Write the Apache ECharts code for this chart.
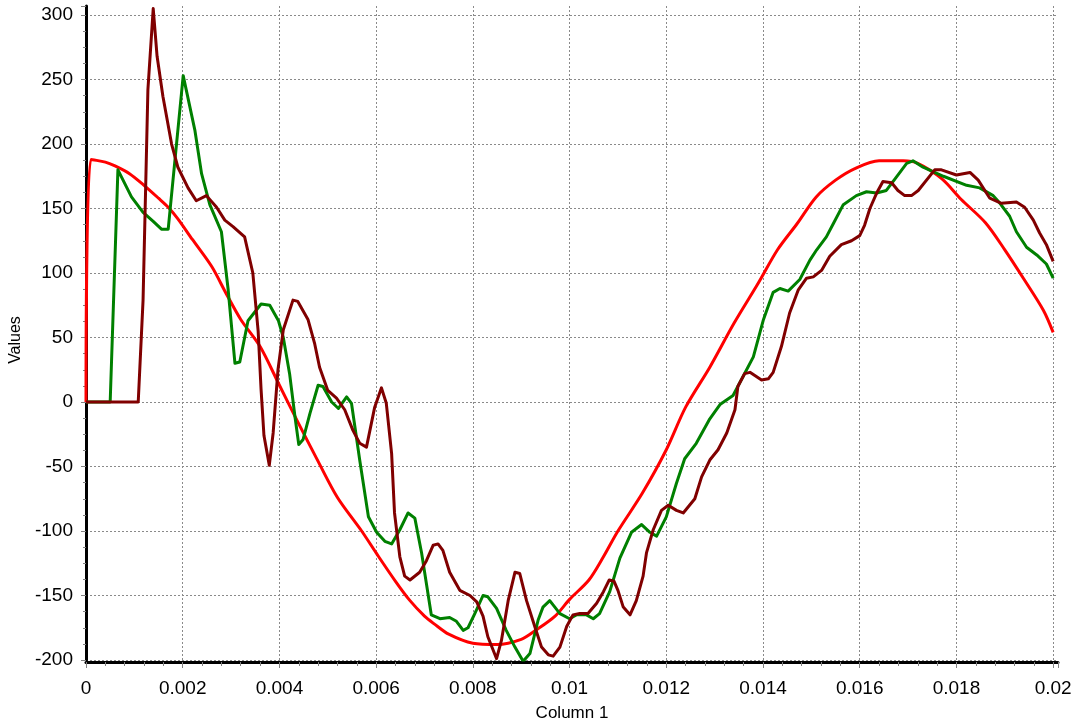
<!DOCTYPE html>
<html>
<head>
<meta charset="utf-8">
<script src="https://cdn.jsdelivr.net/npm/echarts@6/dist/echarts.min.js"></script>
<style>
html,body{margin:0;padding:0;background:#fff;}
#chart{width:1074px;height:724px;}
</style>
</head>
<body>
<div id="chart"></div>
<script>
const xAxisName = "Column 1";
const yAxisName = "Values";

const redSeries = [
[0,0],[0.0001,188],[0.0004,186],[0.0006,183],[0.0009,177],[0.0012,168],[0.0015,158],[0.0017,151],[0.0019,142],[0.0022,126],[0.0026,105],[0.0029,84],[0.0032,64],[0.0036,43],[0.0040,13],[0.0044,-17],[0.0048,-46],[0.0052,-74],[0.0057,-100],[0.0060,-117],[0.0064,-139],[0.0067,-154],[0.0070,-166],[0.0072,-172],[0.0075,-180],[0.0080,-187],[0.0085,-188],[0.0090,-184],[0.0093,-177],[0.0097,-166],[0.0100,-153],[0.0104,-138],[0.0107,-120],[0.0110,-100],[0.0115,-71],[0.0120,-37],[0.0124,-4],[0.0129,27],[0.0134,61],[0.0139,92],[0.0143,118],[0.0147,138],[0.0151,159],[0.0155,172],[0.0159,181],[0.0164,187],[0.0169,187],[0.0172,185],[0.0177,173],[0.0181,157],[0.0186,139],[0.0190,118],[0.0194,95],[0.0198,71],[0.0200,54]
];

const greenSeries = [
[0,0],[0.0005,0],[0.00066,180],[0.00094,159],[0.00118,147],[0.00139,140],[0.00156,134],[0.0017,134],[0.00201,253],[0.00225,211],[0.00239,177],[0.00256,153],[0.0028,132],[0.00294,87],[0.00308,30],[0.00318,31],[0.00335,63],[0.00362,76],[0.0038,75],[0.00398,63],[0.00408,50],[0.00421,22],[0.00432,-11],[0.0044,-33],[0.00449,-29],[0.00463,-9],[0.0048,13],[0.0049,12],[0.00508,0],[0.00522,-5],[0.00539,4],[0.00549,-1],[0.00566,-45],[0.00584,-89],[0.00601,-101],[0.00618,-108],[0.00632,-110],[0.00649,-99],[0.00666,-86],[0.0068,-90],[0.00694,-117],[0.00714,-165],[0.00732,-168],[0.00752,-167],[0.00766,-170],[0.0078,-177],[0.0079,-175],[0.00804,-164],[0.00821,-150],[0.00831,-151],[0.00849,-160],[0.00869,-177],[0.00887,-190],[0.00904,-201],[0.00918,-195],[0.00935,-169],[0.00945,-159],[0.00959,-154],[0.0098,-164],[0.01,-168],[0.01014,-165],[0.01035,-165],[0.01049,-168],[0.01062,-164],[0.01083,-147],[0.01104,-121],[0.01128,-101],[0.01149,-95],[0.01166,-101],[0.0118,-104],[0.012,-89],[0.01221,-63],[0.01238,-44],[0.01262,-32],[0.0129,-13],[0.01311,-2],[0.01338,5],[0.01359,20],[0.0138,35],[0.01401,64],[0.01421,85],[0.01435,88],[0.01452,86],[0.01476,95],[0.01497,110],[0.01511,118],[0.01531,128],[0.01545,138],[0.01566,153],[0.01593,160],[0.01614,163],[0.01635,162],[0.01655,164],[0.01673,173],[0.01697,185],[0.0171,187],[0.01731,182],[0.01773,175],[0.01821,168],[0.01848,166],[0.01876,160],[0.0189,154],[0.0191,144],[0.01924,132],[0.01945,120],[0.01966,114],[0.01986,107],[0.02,96]
];

const darkRedSeries = [
[0,0],[0.00108,0],[0.00118,79],[0.00128,242],[0.00139,305],[0.00147,268],[0.00159,237],[0.00177,200],[0.0019,182],[0.00211,166],[0.00228,156],[0.00249,160],[0.0027,151],[0.00287,141],[0.00304,136],[0.00328,128],[0.00345,100],[0.00356,55],[0.00362,10],[0.00368,-26],[0.00379,-49],[0.00387,-24],[0.00397,25],[0.00408,56],[0.00428,79],[0.00438,78],[0.00459,64],[0.00473,45],[0.00483,27],[0.005,9],[0.00518,3],[0.00535,-6],[0.00552,-22],[0.00566,-32],[0.0058,-35],[0.00597,-4],[0.00611,11],[0.00621,-1],[0.00632,-40],[0.00638,-86],[0.00649,-120],[0.00659,-135],[0.0067,-138],[0.0069,-132],[0.00704,-123],[0.00718,-111],[0.00728,-110],[0.00738,-115],[0.00752,-132],[0.00773,-146],[0.00794,-150],[0.00808,-155],[0.00821,-166],[0.00831,-182],[0.00849,-199],[0.00859,-185],[0.00873,-154],[0.00887,-132],[0.00897,-133],[0.00911,-154],[0.00928,-174],[0.00942,-190],[0.00956,-196],[0.00966,-197],[0.0098,-190],[0.00994,-174],[0.01007,-165],[0.01021,-164],[0.01038,-164],[0.01056,-156],[0.0107,-147],[0.01082,-138],[0.01092,-139],[0.011,-146],[0.01111,-159],[0.01125,-165],[0.01138,-154],[0.01152,-135],[0.01159,-117],[0.01173,-99],[0.0119,-84],[0.01204,-80],[0.01221,-84],[0.01235,-86],[0.01259,-75],[0.01273,-58],[0.0129,-45],[0.01307,-37],[0.01325,-24],[0.01342,-6],[0.01348,12],[0.01362,22],[0.01373,23],[0.01397,17],[0.01411,18],[0.01421,23],[0.01438,43],[0.01455,69],[0.01473,87],[0.0149,96],[0.01504,97],[0.01521,102],[0.01538,113],[0.01562,122],[0.01583,125],[0.016,129],[0.0161,137],[0.01621,150],[0.01635,162],[0.01648,171],[0.01666,170],[0.01679,164],[0.01693,160],[0.01707,160],[0.01721,164],[0.01755,180],[0.01769,180],[0.018,176],[0.01828,178],[0.01845,172],[0.01869,158],[0.01893,154],[0.01924,155],[0.01941,151],[0.01959,141],[0.01972,131],[0.01986,122],[0.02,109]
];

const FONT = '"Liberation Sans", Arial, sans-serif';
const chart = echarts.init(document.getElementById('chart'), null, {renderer: 'canvas'});

const splitLineStyle = {color: '#8a8a8a', width: 1, type: [2, 2]};

function lineSeries(data, color, smooth) {
  return {
    type: 'line',
    data: data,
    showSymbol: false,
    symbol: 'none',
    smooth: smooth,
    lineStyle: {color: color, width: 3, join: 'round'},
    itemStyle: {color: color},
    clip: true,
    animation: false
  };
}

chart.setOption({
  animation: false,
  backgroundColor: '#ffffff',
  grid: {left: 86, right: 16, top: 6, bottom: 64, containLabel: false, outerBoundsMode: 'none'},
  xAxis: {
    type: 'value',
    min: 0,
    max: 0.0201,
    interval: 0.002,
    offset: 2,
    name: xAxisName,
    nameLocation: 'middle',
    nameGap: 43,
    nameTextStyle: {fontFamily: FONT, fontSize: 17, color: '#000'},
    axisLine: {show: true, onZero: false, lineStyle: {color: '#000', width: 3}},
    axisTick: {show: true, length: 6, lineStyle: {color: '#808080', width: 1}},
    minorTick: {show: true, splitNumber: 5, length: 4, lineStyle: {color: '#808080', width: 1}},
    axisLabel: {
      fontFamily: FONT, fontSize: 19, color: '#000', margin: 17,
      showMaxLabel: false,
      formatter: function (v) { return String(parseFloat(v.toFixed(4))); }
    },
    splitLine: {show: true, showMaxLine: false, lineStyle: splitLineStyle}
  },
  yAxis: {
    type: 'value',
    min: -200,
    max: 307,
    interval: 50,
    name: yAxisName,
    nameLocation: 'middle',
    nameGap: 60,
    nameRotate: 90,
    nameTextStyle: {fontFamily: FONT, fontSize: 16, color: '#000', padding: [0, 14, 0, 0]},
    axisLine: {show: true, onZero: false, lineStyle: {color: '#000', width: 3}},
    axisTick: {show: true, length: 5, lineStyle: {color: '#808080', width: 1}},
    minorTick: {show: true, splitNumber: 4, length: 3, lineStyle: {color: '#808080', width: 1}},
    axisLabel: {fontFamily: FONT, fontSize: 19, color: '#000', margin: 13, showMaxLabel: false},
    splitLine: {show: true, showMaxLine: false, lineStyle: splitLineStyle}
  },
  series: [
    lineSeries(redSeries, '#ff0000', 0.3),
    lineSeries(greenSeries, '#008000', false),
    lineSeries(darkRedSeries, '#800000', false)
  ]
});
</script>
</body>
</html>
